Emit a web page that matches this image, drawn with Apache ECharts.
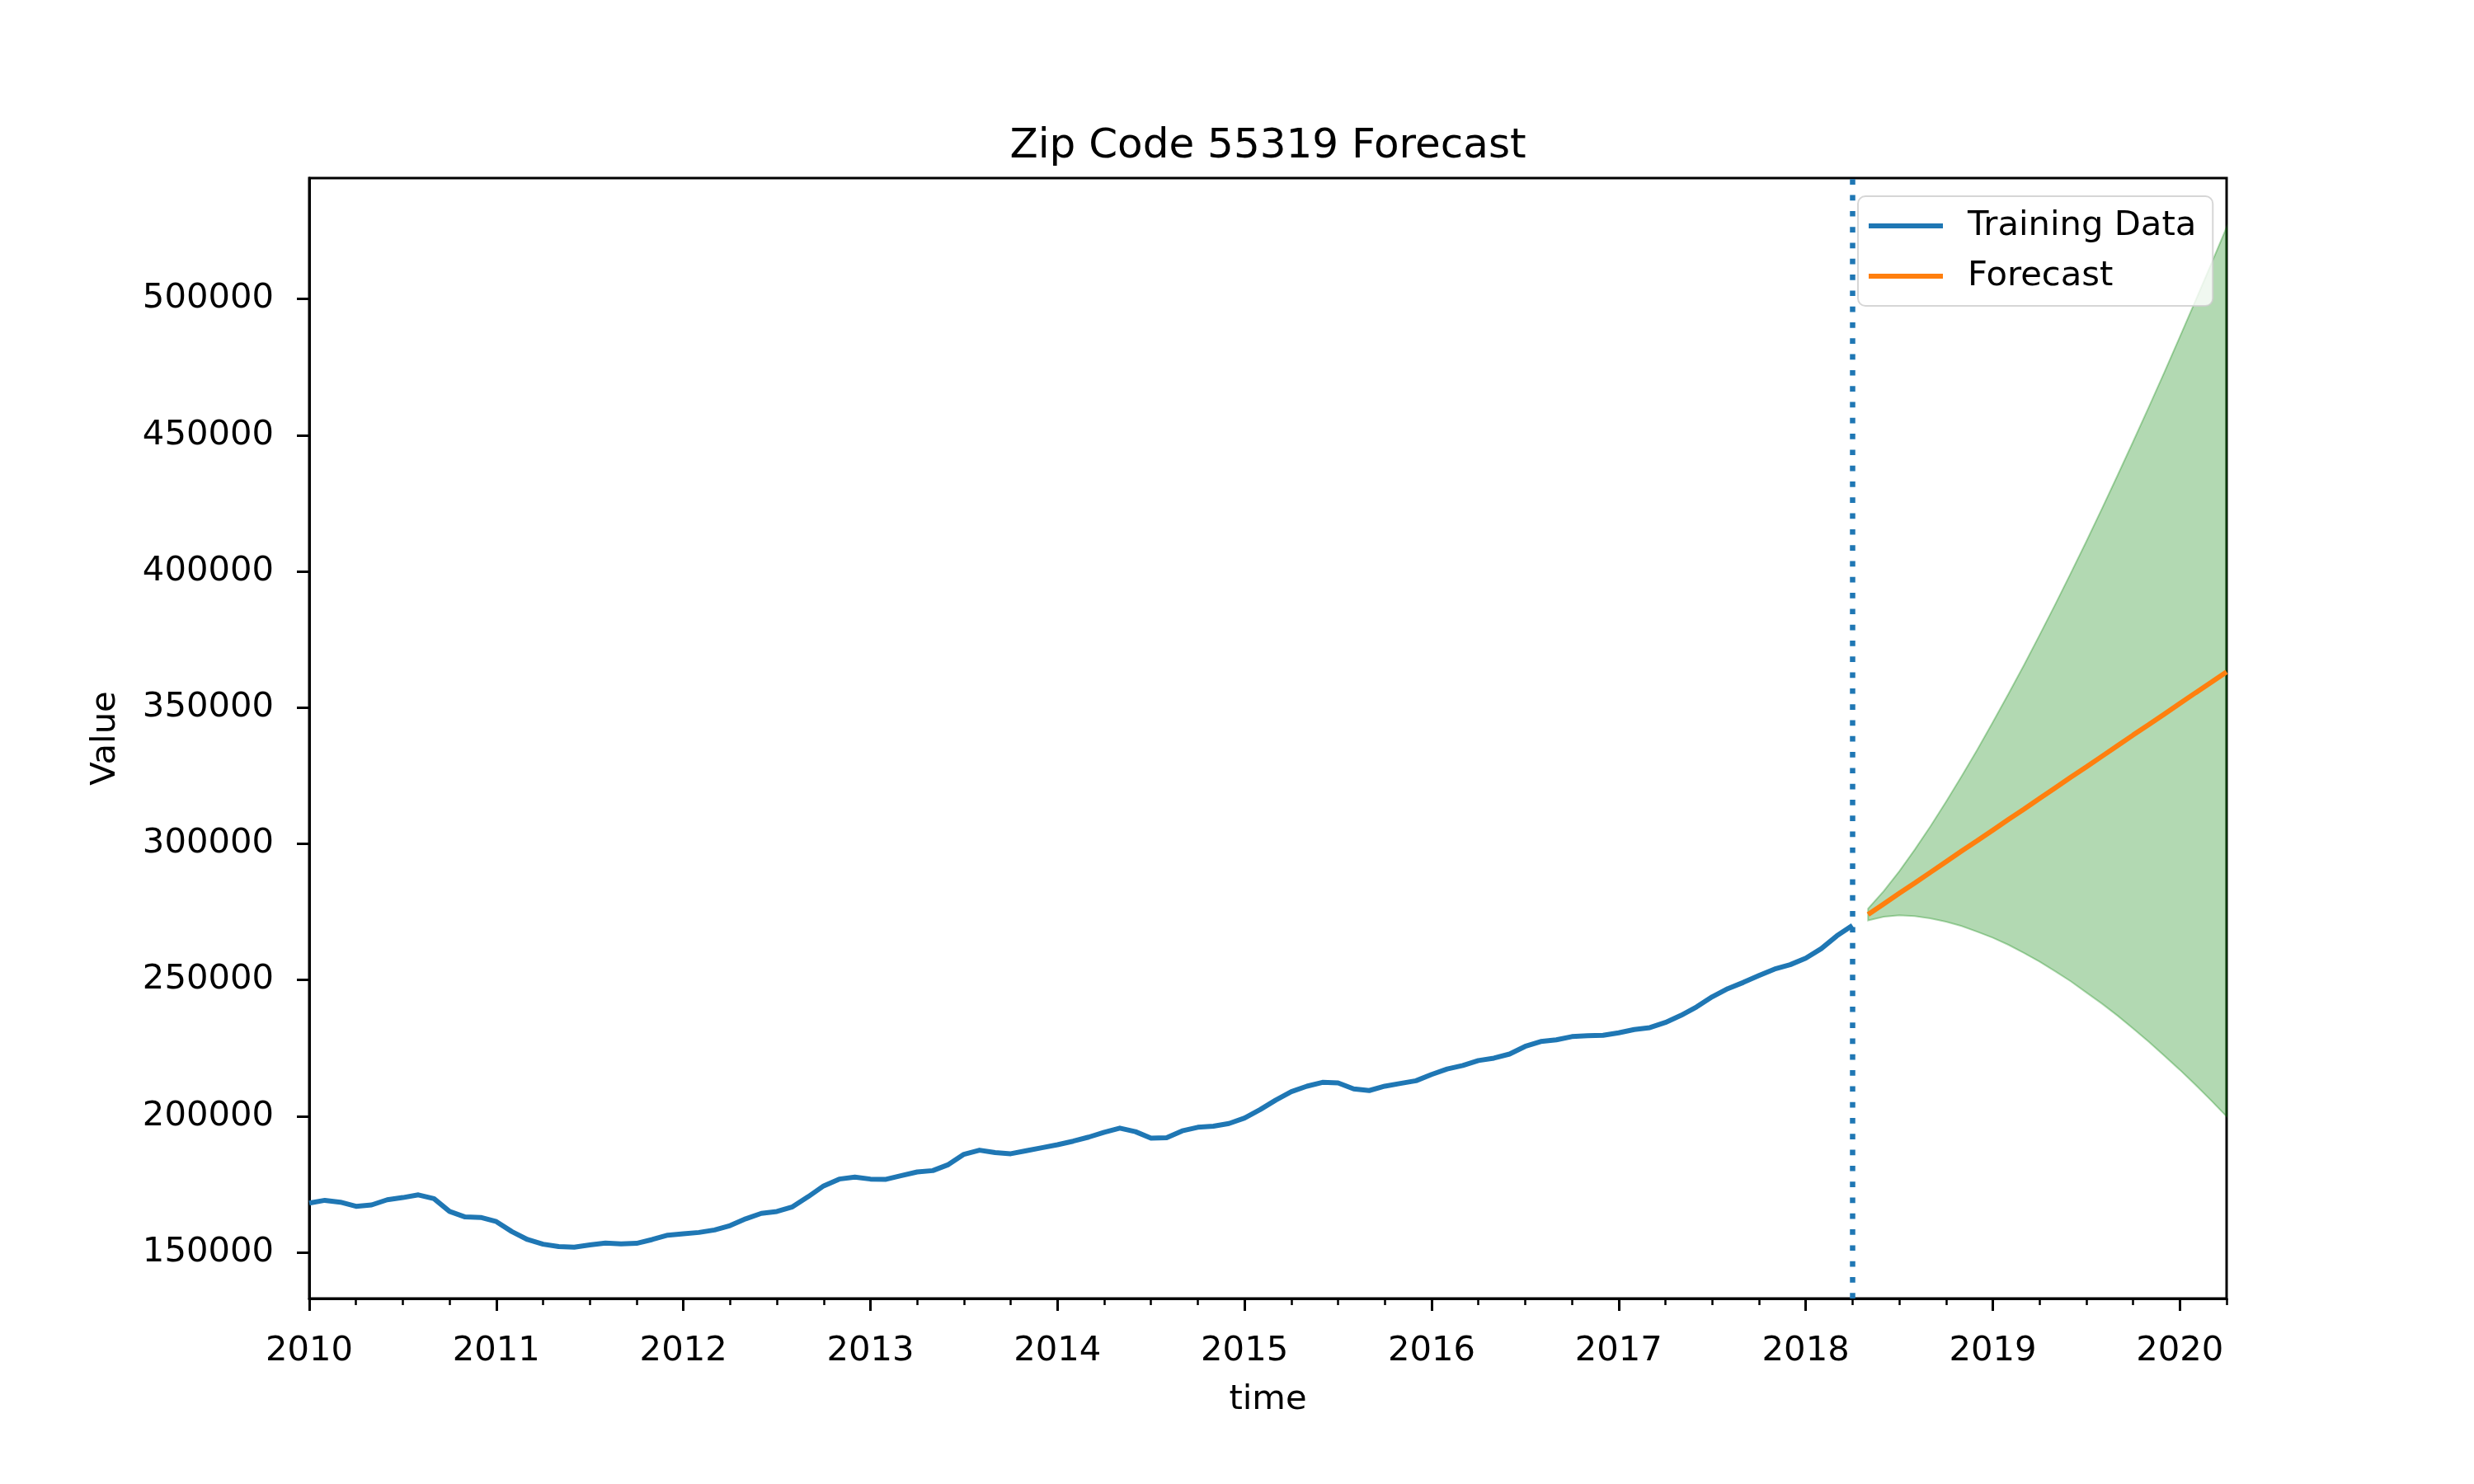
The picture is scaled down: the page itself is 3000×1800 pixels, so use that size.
<!DOCTYPE html>
<html>
<head>
<meta charset="utf-8">
<script src="https://cdn.jsdelivr.net/npm/echarts@6/dist/echarts.min.js"></script>
<style>
html,body{margin:0;padding:0;background:#fff;}
#chart{width:3000px;height:1800px;}
</style>
</head>
<body>
<div id="chart"></div>
<script>
// ---------- data ----------
function monthSeq(startYear, startMonth, count) {
  const out = [];
  for (let k = 0; k < count; k++) {
    const t = (startMonth - 1) + k;
    const y = startYear + Math.floor(t / 12);
    const m = (t % 12) + 1;
    out.push(y + '-' + (m < 10 ? '0' + m : m));
  }
  return out;
}
const trainDates = monthSeq(2010, 1, 100);      // 2010-01 .. 2018-04
const forecastDates = monthSeq(2018, 5, 24);    // 2018-05 .. 2020-04

const trainValues = [
  168100, 169100, 168400, 166900, 167400, 169300, 170100, 171100, 169700, 165000, 163000, 162800,
  161300, 157600, 154700, 153000, 152100, 151900, 152700, 153400, 153100, 153300, 154700, 156300,
  156800, 157300, 158200, 159800, 162300, 164300, 165000, 166700, 170400, 174400, 176900, 177600,
  176900, 176800, 178200, 179500, 180000, 182200, 186000, 187500, 186600, 186200, 187300, 188400,
  189500, 190800, 192300, 194100, 195600, 194300, 191900, 192100, 194600, 195900, 196300, 197300,
  199300, 202400, 205900, 209000, 211000, 212400, 212200, 210000, 209400, 211000, 212000, 213000,
  215300, 217300, 218600, 220400, 221300, 222800, 225600, 227400, 228000, 229200, 229500, 229700,
  230600, 231800, 232500, 234400, 237000, 240100, 243800, 246800, 249100, 251600, 254000, 255600,
  258000, 261500, 266200, 270000
];
const forecastValues = [
  274000, 277900, 281800, 285600, 289500, 293400, 297300, 301100, 305000, 308900, 312700, 316600,
  320500, 324400, 328200, 332100, 336000, 339900, 343700, 347600, 351500, 355400, 359200, 363100
];
const ciLower = [
  271800, 273200, 273700, 273400, 272600, 271400, 269800, 267700, 265500, 262900, 259900, 256700,
  253200, 249500, 245400, 241300, 236900, 232200, 227300, 222200, 217000, 211500, 205800, 199900
];
const ciUpper = [
  276200, 282600, 289900, 297900, 306400, 315400, 324800, 334500, 344600, 355000, 365600, 376600,
  387800, 399300, 411000, 423000, 435200, 447600, 460200, 473000, 486100, 499300, 512700, 526300
];
const splitDate = '2018-04';
const yTicks = [150000, 200000, 250000, 300000, 350000, 400000, 450000, 500000];
const xYearTicks = [2010, 2011, 2012, 2013, 2014, 2015, 2016, 2017, 2018, 2019, 2020];

// ---------- helpers ----------
function toX(d) { const p = d.split('-'); return +p[0] + (+p[1] - 1) / 12; }
const trainX = trainDates.map(toX);
const fcX = forecastDates.map(toX);
const quarterTicks = [];
for (let y = 2010; y <= 2020; y++) for (let q = 1; q < 4; q++) {
  const v = y + q / 4;
  if (v <= 2020.25) quarterTicks.push(v);
}

const FONT = 'DejaVu Sans';
const FS = 41.7;
const chart = echarts.init(document.getElementById('chart'), null, {renderer: 'canvas'});

chart.setOption({
  animation: false,
  backgroundColor: '#ffffff',
  title: {
    text: 'Zip Code 55319 Forecast',
    left: 1537.5, top: 153, textAlign: 'center', padding: 0,
    textStyle: {fontFamily: FONT, fontSize: 50, fontWeight: 'normal', color: '#000', lineHeight: 50}
  },
  legend: {
    data: ['Training Data', 'Forecast'],
    orient: 'vertical',
    left: 2253, top: 238,
    padding: [15, 20, 15, 13],
    itemGap: 19, itemWidth: 90, itemHeight: 6, icon: 'rect',
    backgroundColor: 'rgba(255,255,255,0.8)',
    borderColor: 'rgba(204,204,204,0.8)', borderWidth: 2, borderRadius: 9,
    textStyle: {fontFamily: FONT, fontSize: FS, color: '#000', lineHeight: 42, padding: [0, 0, 0, 25]},
    selectedMode: false
  },
  grid: {left: 375, right: 300, top: 216, bottom: 225, show: true, borderColor: '#000', borderWidth: 3,
         backgroundColor: 'transparent', outerBoundsMode: 'none', containLabel: false},
  xAxis: [{
    type: 'value', min: 2010, max: 2020.25,
    name: 'time', nameLocation: 'middle', nameGap: 102,
    nameTextStyle: {fontFamily: FONT, fontSize: FS, color: '#000', lineHeight: 42},
    axisLine: {show: true, lineStyle: {color: '#000', width: 3}},
    axisTick: {show: true, customValues: xYearTicks, length: 15, lineStyle: {color: '#000', width: 3}},
    axisLabel: {show: true, customValues: xYearTicks, margin: 43, color: '#000', fontFamily: FONT, fontSize: FS,
                lineHeight: 42, formatter: function (v) { return String(Math.round(v)); }},
    splitLine: {show: false}
  }, {
    type: 'value', min: 2010, max: 2020.25, position: 'bottom',
    axisLine: {show: false},
    axisTick: {show: true, customValues: quarterTicks, length: 8, lineStyle: {color: '#000', width: 2.5}},
    axisLabel: {show: false},
    splitLine: {show: false}
  }],
  yAxis: {
    type: 'value', min: 133050, max: 544392,
    name: 'Value', nameLocation: 'middle', nameGap: 226,
    nameTextStyle: {fontFamily: FONT, fontSize: FS, color: '#000', lineHeight: 42},
    axisLine: {show: true, lineStyle: {color: '#000', width: 3}},
    axisTick: {show: true, customValues: yTicks, length: 15, lineStyle: {color: '#000', width: 3}},
    axisLabel: {show: true, customValues: yTicks, margin: 43, color: '#000', fontFamily: FONT, fontSize: FS,
                lineHeight: 42, padding: [8, 0, 0, 0],
                formatter: function (v) { return String(Math.round(v)); }},
    splitLine: {show: false}
  },
  series: [
    {
      type: 'custom', name: 'CI', z: 1, silent: true, xAxisIndex: 0,
      data: [[fcX[0], ciLower[0]]],
      encode: {x: 0, y: 1},
      renderItem: function (params, api) {
        if (params.dataIndex !== 0) return null;
        const pts = [];
        for (let i = 0; i < fcX.length; i++) pts.push(api.coord([fcX[i], ciUpper[i]]));
        for (let i = fcX.length - 1; i >= 0; i--) pts.push(api.coord([fcX[i], ciLower[i]]));
        return {type: 'polygon', shape: {points: pts},
                style: {fill: 'rgba(0,128,0,0.3)', stroke: 'rgba(0,128,0,0.3)', lineWidth: 2}};
      }
    },
    {
      type: 'line', name: 'Training Data', z: 3, xAxisIndex: 0,
      data: trainX.map((x, i) => [x, trainValues[i]]),
      showSymbol: false, symbol: 'none',
      lineStyle: {color: '#1f77b4', width: 6, cap: 'butt', join: 'round'},
      itemStyle: {color: '#1f77b4'},
      markLine: {
        silent: true, symbol: ['none', 'none'], label: {show: false},
        lineStyle: {color: '#1f77b4', width: 6.5, type: [6.7, 12.6]},
        data: [{xAxis: toX(splitDate)}]
      }
    },
    {
      type: 'line', name: 'Forecast', z: 4, xAxisIndex: 0,
      data: fcX.map((x, i) => [x, forecastValues[i]]),
      showSymbol: false, symbol: 'none',
      lineStyle: {color: '#ff7f0e', width: 6, cap: 'butt'},
      itemStyle: {color: '#ff7f0e'}
    }
  ]
});
</script>
</body>
</html>
